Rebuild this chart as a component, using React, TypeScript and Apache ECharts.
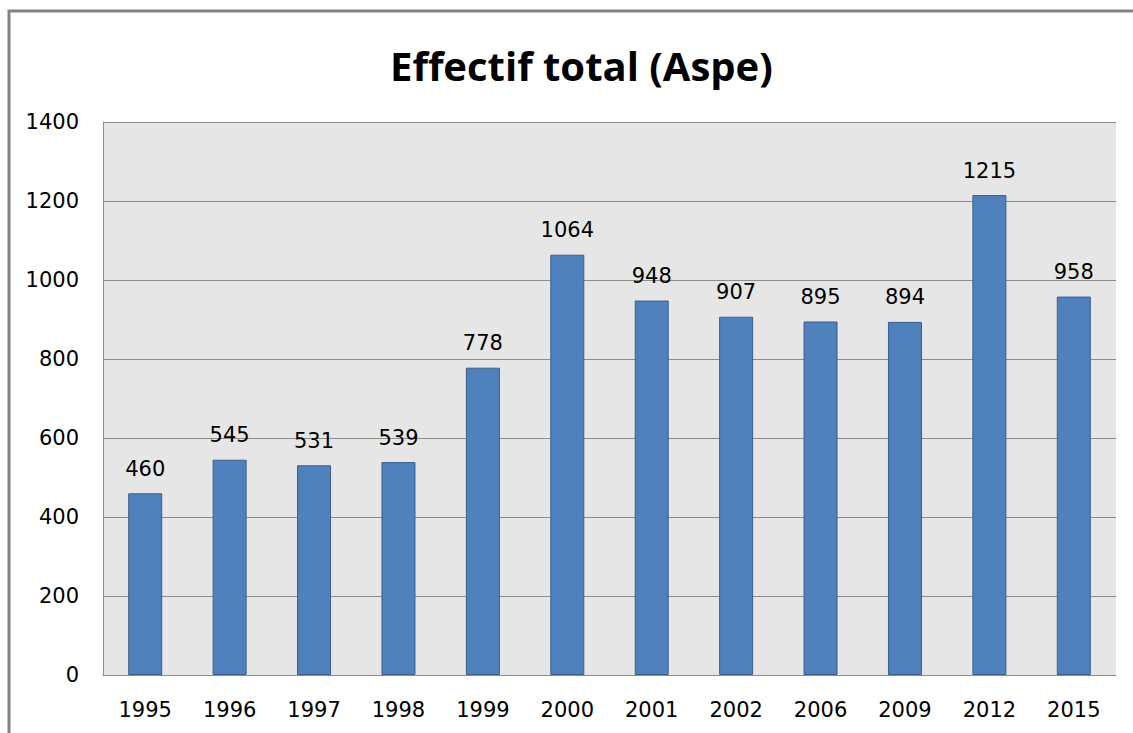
import React, { useEffect, useRef } from "react";
import * as echarts from "echarts";

const categories = ["1995", "1996", "1997", "1998", "1999", "2000", "2001", "2002", "2006", "2009", "2012", "2015"];
const values = [460, 545, 531, 539, 778, 1064, 948, 907, 895, 894, 1215, 958];
const titleText = "Effectif total (Aspe)";

export default function App() {
  const ref = useRef<HTMLDivElement>(null);
  useEffect(() => {
    if (!ref.current) return;
    const chart = echarts.init(ref.current, null, { renderer: "svg" });
    const titleFont = "'Open Sans', 'Noto Sans', sans-serif";
    const font = "'DejaVu Sans', sans-serif";
    chart.setOption({
      animation: false,
      backgroundColor: "#ffffff",
      title: {
        text: titleText,
        left: 385,
        top: 40,
        textStyle: { fontFamily: titleFont, fontWeight: "bold", fontSize: 40, color: "#000000" },
      },
      graphic: [
        {
          type: "rect",
          shape: { x: 9, y: 11, width: 1200, height: 800 },
          style: { fill: "none", stroke: "#828282", lineWidth: 3 },
          silent: true,
        },
      ],
      grid: {
        left: 103,
        top: 122,
        right: 17,
        bottom: 58,
        show: true,
        backgroundColor: "#e6e6e6",
        borderWidth: 0,
      },
      xAxis: {
        type: "category",
        data: categories,
        axisLine: { show: true, lineStyle: { color: "#8c8c8c", width: 1 } },
        axisTick: { show: false },
        axisLabel: { fontFamily: font, fontSize: 21, color: "#000000", margin: 24 },
      },
      yAxis: {
        type: "value",
        min: 0,
        max: 1400,
        interval: 200,
        axisLine: { show: true, lineStyle: { color: "#8c8c8c", width: 1 } },
        axisTick: { show: false },
        splitLine: { show: true, lineStyle: { color: "#8c8c8c", width: 1 } },
        axisLabel: {
          fontFamily: font,
          fontSize: 21,
          color: "#000000",
          margin: 24,
          formatter: (v: number) => String(v),
        },
      },
      series: [
        {
          type: "bar",
          data: values,
          barWidth: 34,
          itemStyle: { color: "#4f81bd", borderColor: "#3a5f8c", borderWidth: 1 },
          label: {
            show: true,
            position: "top",
            distance: 14,
            fontFamily: font,
            fontSize: 21,
            color: "#000000",
          },
        },
      ],
    });
    return () => chart.dispose();
  }, []);
  return (
    <div
      ref={ref}
      style={{ position: "absolute", left: 0, top: 0, width: 1133, height: 733 }}
    />
  );
}
